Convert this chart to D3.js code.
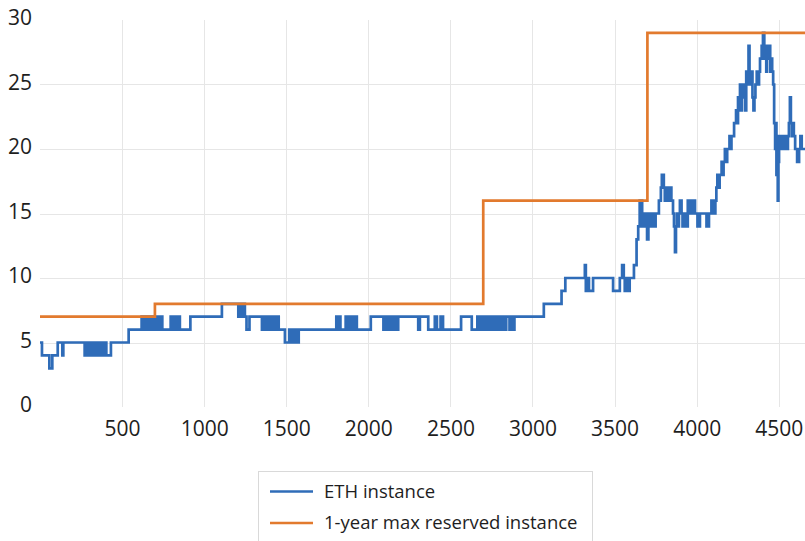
<!DOCTYPE html>
<html>
<head>
<meta charset="utf-8">
<script src="https://cdn.jsdelivr.net/npm/d3@7/dist/d3.min.js"></script>
<style>
  html, body { margin: 0; padding: 0; background: #fff; }
  svg { display: block; font-family: "Open Sans", "Noto Sans", sans-serif; }
</style>
</head>
<body>
<svg id="chart" width="805" height="541"></svg>
<script>
// Y-axis ticks and x-axis ticks
const yTicks = [0, 5, 10, 15, 20, 25, 30];
const xTicks = [500, 1000, 1500, 2000, 2500, 3000, 3500, 4000, 4500];
const xMax = 4660;

// Reserved-instance ceiling: [x where the level starts, level]
const reservedSteps = [[0, 7], [700, 8], [2700, 16], [3700, 29], [4660, 29]];

// ETH instance count: [x where the value starts, value]
const ethSteps = [
  [0,5],[12,4],[57,3],[75,4],[108,5],[136,4],[142,5],
  [272,4],[278,5],[283,4],[289,5],[294,4],[300,5],[306,4],[312,5],[318,4],[323,5],
  [337,4],[350,5],[356,4],[372,5],[378,4],[384,5],[390,4],[396,5],[404,4],[432,5],
  [540,6],
  [619,7],[625,6],[629,7],[635,6],[639,7],[645,6],[649,7],[655,6],[659,7],[665,6],
  [669,7],[675,6],[679,7],[685,6],[689,7],[695,6],[699,7],
  [705,6],[709,7],[715,6],[719,7],[725,6],[729,7],[735,6],[739,7],[745,6],
  [796,7],[802,6],[806,7],[812,6],[816,7],[822,6],[826,7],[832,6],[836,7],[842,6],[846,7],
  [852,6],[916,7],[1108,8],
  [1208,7],[1212,8],[1218,7],[1222,8],[1228,7],[1232,8],[1238,7],[1244,8],[1248,7],
  [1258,6],[1276,7],
  [1352,6],[1358,7],[1364,6],[1370,7],[1378,6],[1384,7],[1390,6],[1396,7],[1402,6],
  [1408,7],[1414,6],[1420,7],[1426,6],[1436,7],[1442,6],[1448,7],[1454,6],
  [1492,5],[1518,6],[1526,5],[1534,6],[1540,5],[1548,6],[1554,5],[1562,6],[1568,5],[1576,6],
  [1805,7],[1815,6],[1822,7],[1830,6],[1862,7],[1868,6],[1874,7],[1880,6],[1888,7],
  [1894,6],[1900,7],[1906,6],[1912,7],[1918,6],[1924,7],[1930,6],
  [2015,7],[2092,6],[2098,7],[2106,6],[2112,7],[2118,6],[2126,7],[2134,6],[2140,7],
  [2146,6],[2154,7],[2160,6],[2166,7],[2172,6],[2182,7],
  [2304,6],[2314,7],[2365,6],[2405,7],[2418,6],[2440,7],[2455,6],[2565,7],[2630,6],[2664,7],
  [2670,6],[2676,7],[2682,6],[2688,7],[2694,6],[2700,7],[2706,6],[2712,7],[2718,6],
  [2724,7],[2730,6],[2736,7],[2742,6],[2750,7],[2756,6],[2762,7],[2768,6],[2774,7],
  [2780,6],[2786,7],[2792,6],[2798,7],[2806,6],[2812,7],[2818,6],[2824,7],[2830,6],
  [2840,7],[2860,6],[2866,7],[2872,6],[2878,7],[2884,6],[2890,7],
  [3069,8],[3177,9],[3200,10],[3319,11],[3325,9],[3336,10],[3344,9],[3369,10],
  [3491,9],[3532,10],[3546,11],[3556,10],[3562,9],[3568,10],[3574,9],[3580,10],
  [3586,9],[3592,10],[3618,11],[3634,13],[3644,14],[3653,16],[3660,15],[3664,16],
  [3668,14],[3674,15],[3680,14],[3686,15],[3698,13],[3706,14],[3712,15],[3718,14],
  [3724,15],[3730,14],[3738,15],[3744,14],[3750,15],[3770,16],[3782,17],[3788,18],
  [3800,17],[3806,16],[3810,17],[3816,16],[3822,17],[3830,16],[3836,17],[3846,16],
  [3856,15],[3862,14],[3868,12],[3874,14],[3880,15],[3886,14],[3892,15],[3898,16],
  [3908,15],[3914,14],[3920,15],[3926,14],[3932,15],[3938,14],[3946,16],[3952,15],
  [3958,16],[3964,15],[3970,16],[3978,15],[3984,16],[3990,15],[4005,14],[4020,15],
  [4060,14],[4075,15],[4090,16],[4096,15],[4102,16],[4108,15],[4114,16],
  [4120,17],[4126,18],[4132,17],[4140,18],[4152,19],[4158,18],[4164,19],[4172,20],
  [4178,19],[4186,20],[4200,21],[4206,20],[4212,21],[4228,22],[4240,23],[4246,22],
  [4252,24],[4258,23],[4264,25],[4270,23],[4276,25],[4282,24],[4290,25],[4296,23],
  [4302,26],[4310,25],[4316,28],[4322,26],[4328,25],[4334,26],[4340,24],[4346,23],
  [4352,24],[4358,25],[4366,26],[4372,25],[4380,26],[4386,27],[4396,28],[4404,29],
  [4412,27],[4418,28],[4424,26],[4428,28],[4436,27],[4442,28],[4448,26],[4452,27],
  [4460,26],[4466,25],[4472,22],[4478,20],[4482,22],[4486,18],[4490,21],[4494,16],
  [4498,19],[4502,21],[4508,20],[4514,21],[4520,20],[4526,21],[4532,20],[4540,21],
  [4548,20],[4556,21],[4562,22],[4568,24],[4574,22],[4580,21],[4586,22],[4592,21],
  [4600,20],[4612,19],[4624,20],[4632,21],[4640,20],[4660,20]
];

const seriesNames = ["ETH instance", "1-year max reserved instance"];
const seriesColors = ["#2f6cb8", "#e27a2e"];

const svg = d3.select("#chart");
const plot = { left: 40, right: 805, top: 20, bottom: 407 };

const x = d3.scaleLinear().domain([0, xMax]).range([plot.left, plot.right]);
const y = d3.scaleLinear().domain([0, 30]).range([plot.bottom, plot.top]);

// Gridlines
const grid = svg.append("g").attr("stroke", "#e6e6e6").attr("stroke-width", 1);
grid.selectAll("line.h")
  .data(yTicks.filter(t => t > 0 && t < 30))
  .join("line")
  .attr("x1", plot.left).attr("x2", plot.right)
  .attr("y1", d => Math.round(y(d)) + 0.5).attr("y2", d => Math.round(y(d)) + 0.5);
grid.selectAll("line.v")
  .data(xTicks)
  .join("line")
  .attr("x1", d => Math.round(x(d)) + 0.5).attr("x2", d => Math.round(x(d)) + 0.5)
  .attr("y1", plot.top).attr("y2", plot.bottom);

// Axes (labels only)
const yAxis = d3.axisLeft(y).tickValues(yTicks).tickSize(0).tickPadding(8)
  .tickFormat(d3.format("d"));
const yG = svg.append("g").attr("transform", `translate(${plot.left},0)`).call(yAxis);
const xAxis = d3.axisBottom(x).tickValues(xTicks).tickSize(0).tickPadding(14)
  .tickFormat(d3.format("d"));
const xG = svg.append("g").attr("transform", `translate(0,${plot.bottom})`).call(xAxis);
[yG, xG].forEach(g => {
  g.select(".domain").remove();
  g.selectAll("text")
    .attr("font-family", "\"Open Sans\", sans-serif")
    .attr("font-size", 21)
    .attr("fill", "#1e1e1e");
});
yG.selectAll("text").attr("x", -8).attr("dy", "0.23em");

// Lines
const line = d3.line()
  .x(d => x(d[0]))
  .y(d => y(d[1]))
  .curve(d3.curveStepAfter);

svg.append("path")
  .datum(ethSteps)
  .attr("fill", "none")
  .attr("stroke", seriesColors[0])
  .attr("stroke-width", 2.7)
  .attr("d", line);

svg.append("path")
  .datum(reservedSteps)
  .attr("fill", "none")
  .attr("stroke", seriesColors[1])
  .attr("stroke-width", 2.7)
  .attr("d", line);

// Legend
const legend = svg.append("g");
legend.append("rect")
  .attr("x", 258.5).attr("y", 471.5)
  .attr("width", 334).attr("height", 80)
  .attr("fill", "#fff").attr("stroke", "#d9d9d9").attr("stroke-width", 1);
const rows = legend.selectAll("g.row")
  .data(seriesNames)
  .join("g")
  .attr("transform", (d, i) => `translate(0,${i === 0 ? 491.5 : 523})`);
rows.append("line")
  .attr("x1", 270).attr("x2", 313)
  .attr("stroke", (d, i) => seriesColors[i])
  .attr("stroke-width", 2.7);
rows.append("text")
  .attr("x", 324).attr("y", 0).attr("dy", "0.33em")
  .attr("font-size", 18.5)
  .attr("fill", "#1e1e1e")
  .text(d => d);
</script>
</body>
</html>
